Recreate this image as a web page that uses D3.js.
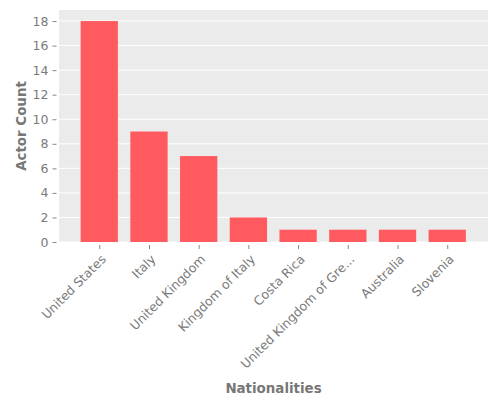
<!DOCTYPE html>
<html>
<head>
<meta charset="utf-8">
<script src="https://cdn.jsdelivr.net/npm/d3@7"></script>
<style>
  body { margin: 0; background: #fff; }
  text { font-family: "DejaVu Sans", sans-serif; }
</style>
</head>
<body>
<div id="viz-container"></div>
<script>
// data
let nationalities = ['United States', 'Italy', 'United Kingdom', 'Kingdom of Italy',
  'Costa Rica', 'United Kingdom of Gre...', 'Australia', 'Slovenia'];
let actorCounts = [18, 9, 7, 2, 1, 1, 1, 1];
let yTicks = [0, 2, 4, 6, 8, 10, 12, 14, 16, 18];

let panelLeft = 59, panelRight = 488, panelTop = 10, panelBottom = 242;

let viz = d3.select('#viz-container')
  .append('svg')
    .attr('width', 500)
    .attr('height', 400)
;

let x = d3.scaleLinear().domain([-0.81, 7.82]).range([panelLeft, panelRight]);
let y = d3.scaleLinear().domain([0, 18.9]).range([panelBottom, panelTop]);
let barWidth = 0.75;

// panel
viz.append('rect')
  .attr('x', panelLeft)
  .attr('y', panelTop)
  .attr('width', panelRight - panelLeft)
  .attr('height', panelBottom - panelTop)
  .attr('fill', '#ebebeb');

// grid
viz.selectAll('.grid').data(yTicks).enter()
  .append('line')
    .attr('x1', panelLeft)
    .attr('x2', panelRight)
    .attr('y1', d => y(d))
    .attr('y2', d => y(d))
    .attr('stroke', 'white')
    .attr('stroke-width', 1);

// bars
viz.selectAll('.bar').data(actorCounts).enter()
  .append('rect')
    .attr('x', (d, i) => x(i - barWidth / 2))
    .attr('y', d => y(d))
    .attr('width', x(barWidth) - x(0))
    .attr('height', d => y(0) - y(d))
    .attr('fill', '#ff5a5f');

// y axis
let yAxis = d3.axisLeft(y).tickValues(yTicks).tickSize(4).tickPadding(4);
let gy = viz.append('g')
  .attr('transform', 'translate(' + (panelLeft - 2.5) + ',0)')
  .call(yAxis);
gy.select('.domain').remove();
gy.selectAll('line').attr('stroke', '#888');
gy.selectAll('text')
  .attr('fill', '#7a7a7a')
  .style('font-size', '12.5px');

// x axis
let xAxis = d3.axisBottom(x).tickValues(d3.range(nationalities.length))
  .tickFormat(i => nationalities[i]).tickSize(4);
let gx = viz.append('g')
  .attr('transform', 'translate(0,' + (panelBottom + 3) + ')')
  .call(xAxis);
gx.select('.domain').remove();
gx.selectAll('line').attr('stroke', '#888');
gx.selectAll('text')
  .attr('fill', '#7a7a7a')
  .style('font-size', '12.5px')
  .attr('text-anchor', 'end')
  .attr('y', 0)
  .attr('dy', 0)
  .attr('transform', 'translate(7,15) rotate(-45)');

// axis titles
viz.append('text')
  .attr('x', (panelLeft + panelRight) / 2)
  .attr('y', 393)
  .attr('text-anchor', 'middle')
  .attr('fill', '#777')
  .style('font-size', '13.4px')
  .style('font-weight', 'bold')
  .text('Nationalities');

viz.append('text')
  .attr('transform', 'translate(26,' + (panelTop + panelBottom) / 2 + ') rotate(-90)')
  .attr('text-anchor', 'middle')
  .attr('fill', '#777')
  .style('font-size', '13.4px')
  .style('font-weight', 'bold')
  .text('Actor Count');
</script>
</body>
</html>
